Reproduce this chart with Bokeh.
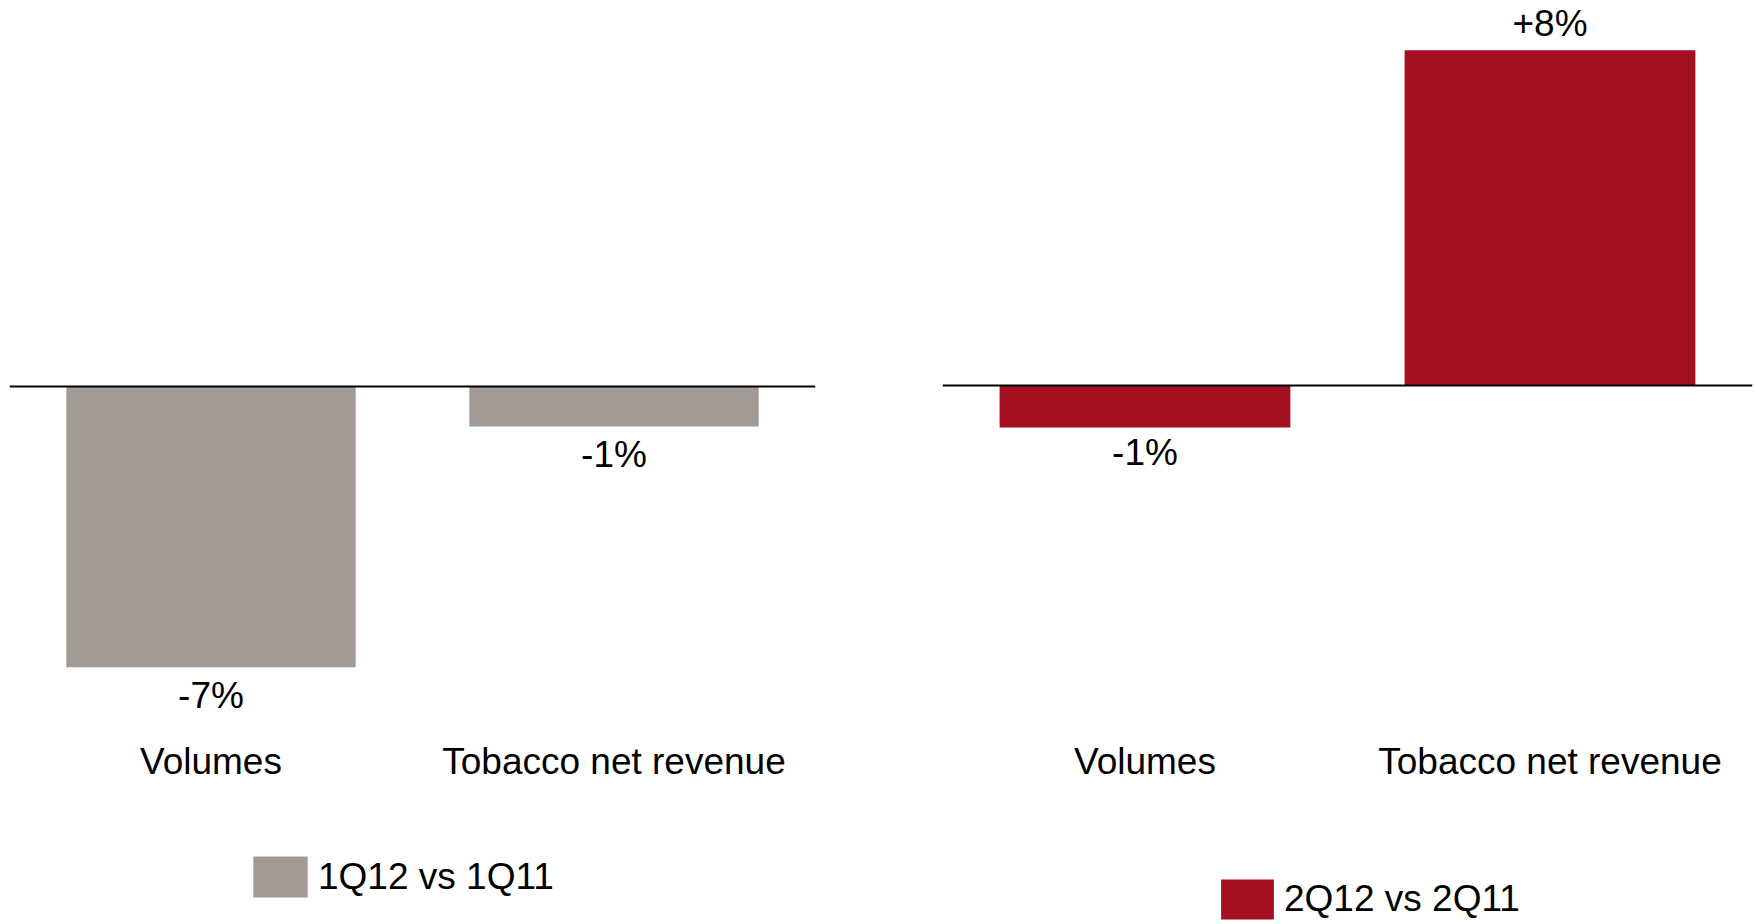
from bokeh.plotting import figure
from bokeh.models import ColumnDataSource, FactorRange, Range1d, Span, Legend, LegendItem
from bokeh.layouts import row
from bokeh.core.properties import value
from bokeh.embed import file_html
from bokeh.resources import INLINE

# ---- data ----
categories = ["Volumes", "Tobacco net revenue"]
q1_values = [-7, -1]
q2_values = [-1, 8]
q1_label = "1Q12 vs 1Q11"
q2_label = "2Q12 vs 2Q11"

GRAY = "#A49A95"
RED = "#A50F22"
FONT = "Liberation Sans"
FS = "37px"

H = 924
AXIS_PX = 735  # pixel row where the category labels hang from


def make_panel(vals, color, width, border_left, border_right, zero_px, px_per_unit,
               neg_off, legend_text, legend_x, legend_y, gw, gh):
    labels = [f"{v:+d}%" for v in vals]
    offsets = [-27 if v > 0 else neg_off for v in vals]
    src = ColumnDataSource(dict(cat=categories, val=vals, lab=labels, off=offsets))
    y_top = zero_px / px_per_unit
    y_bot = -(H - zero_px) / px_per_unit
    p = figure(x_range=FactorRange(*categories), y_range=Range1d(y_bot, y_top),
               width=width, height=H, output_backend="svg", toolbar_location=None,
               y_axis_location=None, min_border_left=border_left,
               min_border_right=border_right, min_border_top=0,
               min_border_bottom=0)
    p.outline_line_color = None
    p.xgrid.visible = False
    p.ygrid.visible = False
    p.background_fill_color = "white"
    p.border_fill_color = "white"
    r = p.vbar(x="cat", top="val", bottom=0, width=0.718, source=src,
               fill_color=color, line_color=None)
    p.add_layout(Span(location=0, dimension="width", line_color="black", line_width=2))
    p.text(x="cat", y="val", text="lab", y_offset="off", source=src,
           text_align="center", text_baseline="middle",
           text_font=value(FONT), text_font_size=FS, text_color="black")
    ax = p.xaxis[0]
    ax.fixed_location = -(AXIS_PX - zero_px) / px_per_unit
    ax.axis_line_color = None
    ax.major_tick_line_color = None
    ax.minor_tick_line_color = None
    ax.major_tick_out = 0
    ax.major_tick_in = 0
    ax.major_label_standoff = 5
    ax.major_label_text_font = FONT
    ax.major_label_text_font_size = FS
    ax.major_label_text_color = "black"
    leg = Legend(items=[LegendItem(label=legend_text, renderers=[r])],
                 location=(legend_x, legend_y),
                 glyph_width=gw, glyph_height=gh, label_height=gh, label_standoff=4,
                 padding=0, margin=0, spacing=0, border_line_color=None,
                 background_fill_alpha=0, label_text_font=FONT,
                 label_text_font_size=FS, label_text_color="black")
    p.add_layout(leg)
    return p


p1 = make_panel(q1_values, GRAY, 877, 9, 62, 386, 40.1, 28, q1_label, 237, 22, 68, 51)
p2 = make_panel(q2_values, RED, 878, 65, 3, 385, 41.9, 25, q2_label, 272, 0, 66, 50)

layout = row(p1, p2)
open("out.html", "w").write(file_html(layout, INLINE))
